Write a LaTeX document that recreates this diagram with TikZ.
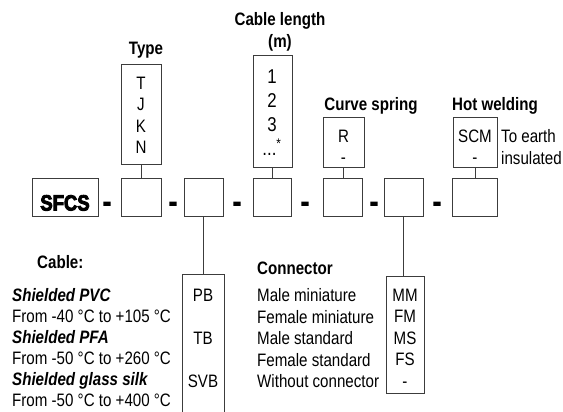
\documentclass[tikz,border=0pt]{standalone}
\usepackage{fontspec}
\setmainfont{Liberation Sans}[FakeStretch=0.84]
\newfontfamily\sfcsfont{Liberation Sans Bold}[FakeStretch=0.84, FakeBold=4]
\usetikzlibrary{positioning}
\definecolor{boxgray}{RGB}{60,60,60}

\tikzset{
  optbox/.style={draw=boxgray, line width=0.8pt, inner sep=0pt},
  rowbox/.style={optbox, minimum height=38pt},
  conn/.style={draw=boxgray, line width=0.8pt},
  txt/.style={inner sep=0pt, anchor=north, align=center},
  head/.style={txt, font=\bfseries\fontsize{18}{22}\selectfont},
  sfcs/.style={inner sep=0pt, anchor=base, font=\sfcsfont\fontsize{22}{24}\selectfont},
  dashsign/.style={inner sep=0pt, anchor=base, font=\sfcsfont\fontsize{28}{30}\selectfont},
}

\begin{document}
\begin{tikzpicture}[x=1pt, y=-1pt, font=\fontsize{18}{21.5}\selectfont]
  \useasboundingbox (0,0) rectangle (563,412);
  % code row
  \node[optbox, minimum width=66pt, minimum height=38pt] (sfcsbox) at (65,197.5) {};
  \node[sfcs] (sfcstxt) at (65,210.5) {SFCS};
  \foreach \x/\n in {107/1,173/2,237/3,305/4,374/5,437/6}
    \node[dashsign] (dash\n) at (\x,211) {-};
  \node[rowbox, minimum width=40pt] (typeslot) at (141,197.5) {};
  \node[rowbox, minimum width=39pt] (cableslot) at (203.5,197.5) {};
  \node[rowbox, minimum width=38pt] (lenslot) at (272,197.5) {};
  \node[rowbox, minimum width=39pt] (springslot) at (342.5,197.5) {};
  \node[rowbox, minimum width=39pt] (connslot) at (403.5,197.5) {};
  \node[rowbox, minimum width=45pt] (weldslot) at (475,197.5) {};

  % option boxes above
  \node[optbox, minimum width=40pt, minimum height=100pt] (typebox) at (141,114) {};
  \node[optbox, minimum width=39pt, minimum height=112pt] (lenbox) at (272.5,111) {};
  \node[optbox, minimum width=41pt, minimum height=50pt] (springbox) at (343.5,142) {};
  \node[optbox, minimum width=44pt, minimum height=50pt] (weldbox) at (475,142) {};
  \node[txt] (typeopts) at (141,76.5) {T\\J\\K\\N};
  \node[txt, font=\fontsize{20}{24}\selectfont] (lenopts) at (272,70) {1\\2\\3\\...\textsuperscript{*}};
  \node[txt] (springopts) at (343.5,129.5) {R\\-};
  \node[txt] (weldopts) at (475,129.5) {SCM\\-};
  \node[txt, anchor=north west, align=left] (weldnote) at (501,129.5) {To earth\\insulated};
  \node[head] (typehead) at (146,41.5) {Type};
  \node[head] (lenhead) at (280,12.5) {Cable length\\(m)};
  \node[head] (springhead) at (371,97) {Curve spring};
  \node[head] (weldhead) at (495,97) {Hot welding};

  % option boxes below
  \begin{scope}
    \clip (0,0) rectangle (563,412);
    \node[optbox, minimum width=42pt, minimum height=156pt] (cablebox) at (203,352) {};
  \end{scope}
  \node[optbox, minimum width=38pt, minimum height=117pt] (connbox) at (405,334.5) {};
  \node[txt] (cableopts) at (203,288.5) {PB\\[21.5pt]TB\\[21.5pt]SVB};
  \node[txt] (connopts) at (405,288.5) {MM\\FM\\MS\\FS\\-};
  \node[head, anchor=north west] (cablehead) at (37,255.5) {Cable:};
  \node[head, anchor=north west] (connhead) at (257,261.5) {Connector};
  \node[txt, anchor=north west, align=left, font=\fontsize{18}{21}\selectfont] (cablelist) at (12,288.5)
    {\textbf{\textit{Shielded PVC}}\\From -40 °C to +105 °C\\\textbf{\textit{Shielded PFA}}\\From -50 °C to +260 °C\\\textbf{\textit{Shielded glass silk}}\\From -50 °C to +400 °C};
  \node[txt, anchor=north west, align=left] (connlist) at (257,288.5)
    {Male miniature\\Female miniature\\Male standard\\Female standard\\Without connector};

  % connectors
  \draw[conn] (typebox.south) -- (typebox.south |- typeslot.north);
  \draw[conn] (lenbox.south) -- (lenbox.south |- lenslot.north);
  \draw[conn] (springbox.south) -- (springbox.south |- springslot.north);
  \draw[conn] (weldbox.south) -- (weldbox.south |- weldslot.north);
  \draw[conn] (cableslot.south) -- (cableslot.south |- cablebox.north);
  \draw[conn] (connslot.south) -- (connslot.south |- connbox.north);
\end{tikzpicture}
\end{document}
